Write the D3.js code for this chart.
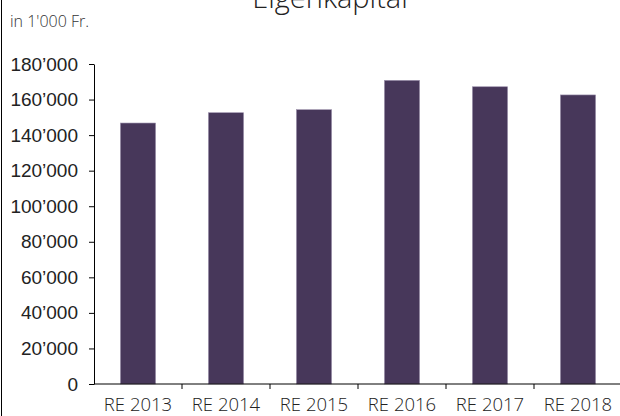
<!DOCTYPE html>
<html>
<head>
<meta charset="utf-8">
<script src="https://cdn.jsdelivr.net/npm/d3@7"></script>
<style>
  html, body { margin: 0; padding: 0; background: #fff; }
  svg { display: block; font-family: 'Open Sans', sans-serif; font-weight: 300; }
</style>
</head>
<body>
<div id="chart"></div>
<script>
const categories = ['RE 2013', 'RE 2014', 'RE 2015', 'RE 2016', 'RE 2017', 'RE 2018'];
const values = [146800, 152600, 154300, 170800, 167200, 162600];
const yTicks = [0, 20000, 40000, 60000, 80000, 100000, 120000, 140000, 160000, 180000];

const width = 620;
const height = 416;
const margin = { top: 64, right: -2, bottom: 32, left: 94 };

const fmt = v => d3.format(',')(v).replace(/,/g, '\u2019');

const svg = d3.select('#chart')
  .append('svg')
  .attr('width', width)
  .attr('height', height);

// left frame line
svg.append('line')
  .attr('x1', 1.5).attr('x2', 1.5)
  .attr('y1', 0).attr('y2', height)
  .attr('stroke', '#000').attr('stroke-width', 1);

const x = d3.scaleBand()
  .domain(categories)
  .range([margin.left, width - margin.right])
  .paddingInner(0.6)
  .paddingOuter(0.3);

const y = d3.scaleLinear()
  .domain([0, 180000])
  .range([height - margin.bottom, margin.top]);

// title (cut off at top, as in the original)
svg.append('text')
  .attr('x', 330)
  .attr('y', 8)
  .attr('text-anchor', 'middle')
  .attr('fill', '#222')
  .style('font-size', '29px')
  .text('Eigenkapital');

svg.append('text')
  .attr('x', 10)
  .attr('y', 27)
  .attr('fill', '#333')
  .style('font-size', '16px')
  .text('in 1\'000 Fr.');

// bars
svg.append('g')
  .selectAll('rect')
  .data(values)
  .join('rect')
  .attr('x', (d, i) => x(categories[i]))
  .attr('y', d => y(d))
  .attr('width', x.bandwidth())
  .attr('height', d => y(0) - y(d))
  .attr('fill', '#47375a')
  .attr('stroke', '#9d92ad')
  .attr('stroke-width', 0.6);

// y axis
const yAxis = svg.append('g')
  .attr('transform', `translate(${margin.left},0)`)
  .call(d3.axisLeft(y).tickValues(yTicks).tickFormat(fmt).tickSize(5).tickSizeOuter(0).tickPadding(11));
yAxis.selectAll('text').style('font-size', '19px').attr('fill', '#222');
yAxis.selectAll('line, path').attr('stroke', '#000');

// x axis with ticks between categories
const step = x.step();
const xAxisG = svg.append('g')
  .attr('transform', `translate(0,${y(0)})`);
xAxisG.append('line')
  .attr('x1', margin.left).attr('x2', width)
  .attr('stroke', '#000');
xAxisG.selectAll('.tick')
  .data(categories)
  .join('line')
  .attr('class', 'tick')
  .attr('x1', (d, i) => margin.left + step * (i + 1))
  .attr('x2', (d, i) => margin.left + step * (i + 1))
  .attr('y1', 0).attr('y2', 5)
  .attr('stroke', '#000');
xAxisG.selectAll('text')
  .data(categories)
  .join('text')
  .attr('x', d => x(d) + x.bandwidth() / 2)
  .attr('y', 27)
  .attr('text-anchor', 'middle')
  .attr('fill', '#222')
  .style('font-size', '18.5px')
  .text(d => d);
</script>
</body>
</html>
